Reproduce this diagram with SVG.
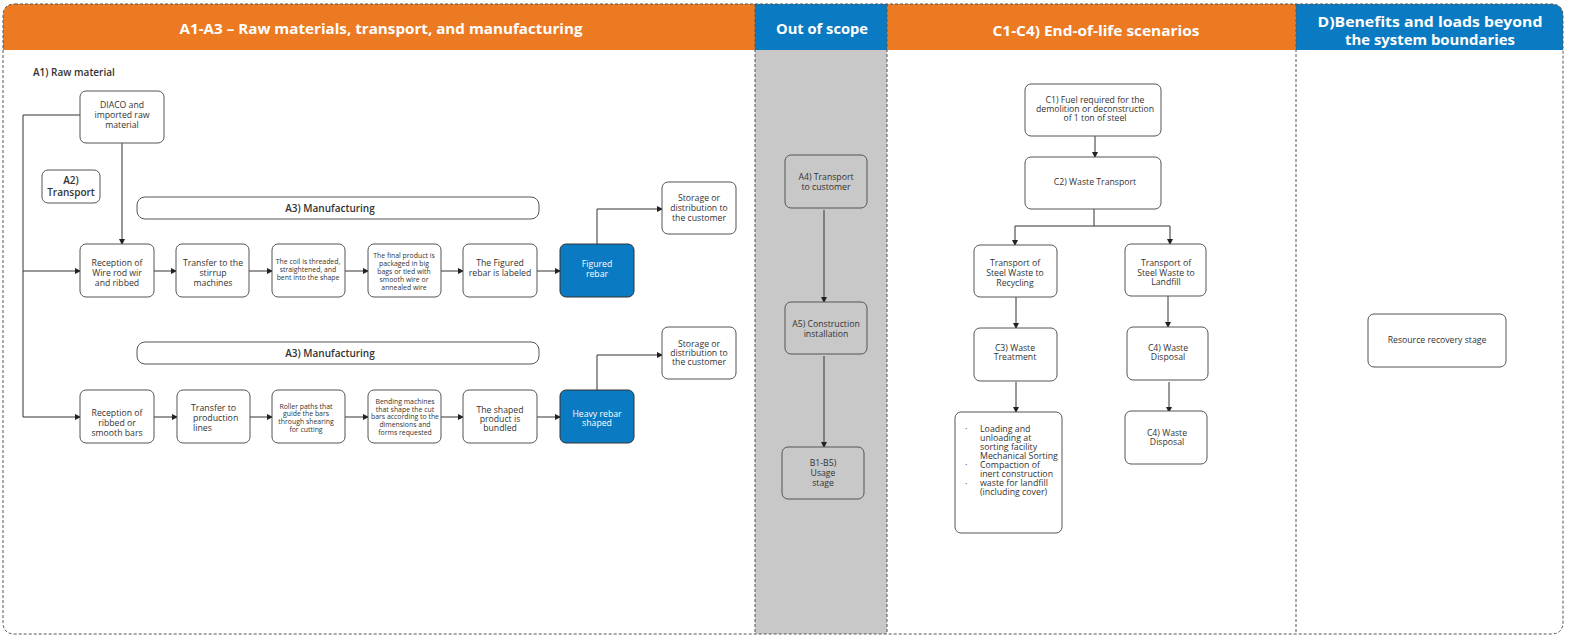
<svg xmlns="http://www.w3.org/2000/svg" width="1572" height="636" viewBox="0 0 1572 636">
<style>
text{font-family:"Open Sans","Liberation Sans",sans-serif;fill:#333}
.t{font-size:8.7px;text-anchor:middle}
.tl{font-size:8.8px}
.s{font-size:6.9px;text-anchor:middle}
.w{fill:#fff}
.h{font-size:14px;font-weight:700;fill:#fff;text-anchor:middle}
.lb{font-size:10px;font-weight:600}
.box{fill:#fff;stroke:#555;stroke-width:1}
.gbox{fill:#C8C8C8;stroke:#555;stroke-width:1}
.blue{fill:#0A7BC2;stroke:#333;stroke-width:1}
.dash{fill:none;stroke:#555;stroke-width:1;stroke-dasharray:3 2}
.c{fill:none;stroke:#333;stroke-width:1}
.a{marker-end:url(#arr)}
</style>
<defs>
<marker id="arr" markerUnits="userSpaceOnUse" markerWidth="6" markerHeight="6" refX="5" refY="3" orient="auto">
<path d="M0,0 L6,3 L0,6 z" fill="#222"/>
</marker>
</defs>
<rect width="1572" height="636" fill="#fff"/>
<g id="frame">
<rect x="755" y="50" width="132" height="584" fill="#C8C8C8"/>
<path d="M3,50 V16 Q3,4 15,4 H755 V50 Z" fill="#EC7A23"/>
<rect x="755" y="4" width="132" height="46" fill="#0A7BC2"/>
<rect x="887" y="4" width="409" height="46" fill="#EC7A23"/>
<path d="M1296,4 H1551 Q1563,4 1563,16 V50 H1296 Z" fill="#0A7BC2"/>
<path class="dash" d="M15,4 H1551 Q1563,4 1563,16 V622 Q1563,634 1551,634 H15 Q3,634 3,622 V16 Q3,4 15,4 Z"/>
<line class="dash" x1="755" y1="4" x2="755" y2="634"/>
<line class="dash" x1="887" y1="4" x2="887" y2="634"/>
<line class="dash" x1="1296" y1="4" x2="1296" y2="634"/>
<text class="h" x="381" y="34" textLength="403" lengthAdjust="spacingAndGlyphs">A1-A3 – Raw materials, transport, and manufacturing</text>
<text class="h" x="822" y="34" textLength="92" lengthAdjust="spacingAndGlyphs">Out of scope</text>
<text class="h" x="1096" y="36" textLength="207" lengthAdjust="spacingAndGlyphs">C1-C4) End-of-life scenarios</text>
<text class="h" x="1430" y="27" textLength="225" lengthAdjust="spacingAndGlyphs">D)Benefits and loads beyond</text>
<text class="h" x="1430" y="45" textLength="170" lengthAdjust="spacingAndGlyphs">the system boundaries</text>
<text class="lb" x="33" y="76">A1) Raw material</text>
</g>
<g id="connectors">
<path class="c a" d="M80,115 H23 V417 H80"/>
<path class="c a" d="M23,271 H80"/>
<path class="c a" d="M122,143 V244"/>
<path class="c a" d="M154,271 H176"/>
<path class="c a" d="M249,271 H272"/>
<path class="c a" d="M345,271 H368"/>
<path class="c a" d="M441,271 H463"/>
<path class="c a" d="M537,271 H560"/>
<path class="c a" d="M597,244 V209 H662"/>
<path class="c a" d="M154,417 H177"/>
<path class="c a" d="M250,417 H272"/>
<path class="c a" d="M345,417 H368"/>
<path class="c a" d="M441,417 H463"/>
<path class="c a" d="M537,417 H560"/>
<path class="c a" d="M597,390 V355 H662"/>
<path class="c a" d="M824,210 V302"/>
<path class="c a" d="M824,356 V447"/>
<path class="c a" d="M1095,136 V157"/>
<path class="c" d="M1094,209 V226 M1015,226 H1170"/>
<path class="c a" d="M1015,226 V245"/>
<path class="c a" d="M1170,226 V244"/>
<path class="c a" d="M1016,297 V328"/>
<path class="c a" d="M1168,296 V327"/>
<path class="c a" d="M1016,382 V412"/>
<path class="c a" d="M1169,382 V412"/>
</g>
<g id="diaco"><rect class="box" x="80" y="91" width="84" height="52" rx="6"/>
<text class="t" x="122" y="108">DIACO and</text><text class="t" x="122" y="118">imported raw</text><text class="t" x="122" y="128">material</text></g>
<g id="a2"><rect class="box" x="42" y="170" width="58" height="33" rx="6"/>
<text class="lb" x="71" y="184" text-anchor="middle">A2)</text><text class="lb" x="71" y="196" text-anchor="middle">Transport</text></g>
<g id="a3-1"><rect class="box" x="137" y="197" width="402" height="22" rx="8"/>
<text class="lb" x="330" y="212" text-anchor="middle" font-size="10.5">A3) Manufacturing</text></g>
<g id="r1n1"><rect class="box" x="80" y="244" width="74" height="53" rx="6"/>
<text class="t" x="117" y="266">Reception of</text><text class="t" x="117" y="276">Wire rod wir</text><text class="t" x="117" y="286">and ribbed</text></g>
<g id="r1n2"><rect class="box" x="176" y="244" width="73" height="53" rx="6"/>
<text class="t" x="213" y="266">Transfer to the</text><text class="t" x="213" y="276">stirrup</text><text class="t" x="213" y="286">machines</text></g>
<g id="r1n3"><rect class="box" x="272" y="244" width="73" height="53" rx="6"/>
<text class="s" x="308" y="264">The coil is threaded,</text><text class="s" x="308" y="272">straightened, and</text><text class="s" x="308" y="280">bent into the shape</text></g>
<g id="r1n4"><rect class="box" x="368" y="244" width="73" height="53" rx="6"/>
<text class="s" x="404" y="258">The final product is</text><text class="s" x="404" y="266">packaged in big</text><text class="s" x="404" y="274">bags or tied with</text><text class="s" x="404" y="282">smooth wire or</text><text class="s" x="404" y="290">annealed wire</text></g>
<g id="r1n5"><rect class="box" x="463" y="244" width="74" height="53" rx="6"/>
<text class="t" x="500" y="266">The Figured</text><text class="t" x="500" y="276">rebar is labeled</text></g>
<g id="r1n6"><rect class="blue" x="560" y="244" width="74" height="53" rx="6"/>
<text class="t w" x="597" y="267">Figured</text><text class="t w" x="597" y="277">rebar</text></g>
<g id="store1"><rect class="box" x="662" y="182" width="74" height="52" rx="6"/>
<text class="t" x="699" y="201">Storage or</text><text class="t" x="699" y="211">distribution to</text><text class="t" x="699" y="221">the customer</text></g>
<g id="a3-2"><rect class="box" x="137" y="342" width="402" height="22" rx="8"/>
<text class="lb" x="330" y="357" text-anchor="middle" font-size="10.5">A3) Manufacturing</text></g>
<g id="r2n1"><rect class="box" x="80" y="390" width="74" height="53" rx="6"/>
<text class="t" x="117" y="416">Reception of</text><text class="t" x="117" y="426">ribbed or</text><text class="t" x="117" y="436">smooth bars</text></g>
<g id="r2n2"><rect class="box" x="177" y="390" width="73" height="53" rx="6"/>
<text class="tl" x="191" y="411">Transfer to</text><text class="tl" x="193" y="421">production</text><text class="tl" x="193" y="431">lines</text></g>
<g id="r2n3"><rect class="box" x="272" y="390" width="73" height="53" rx="6"/>
<text class="s" x="306" y="409">Roller paths that</text><text class="s" x="306" y="416">guide the bars</text><text class="s" x="306" y="424">through shearing</text><text class="s" x="306" y="432">for cutting</text></g>
<g id="r2n4"><rect class="box" x="368" y="390" width="73" height="53" rx="6"/>
<text class="s" x="405" y="404">Bending machines</text><text class="s" x="405" y="412">that shape the cut</text><text class="s" x="405" y="419">bars according to the</text><text class="s" x="405" y="427">dimensions and</text><text class="s" x="405" y="435">forms requested</text></g>
<g id="r2n5"><rect class="box" x="463" y="390" width="74" height="53" rx="6"/>
<text class="t" x="500" y="413">The shaped</text><text class="t" x="500" y="422">product is</text><text class="t" x="500" y="431">bundled</text></g>
<g id="r2n6"><rect class="blue" x="560" y="390" width="74" height="53" rx="6"/>
<text class="t w" x="597" y="417">Heavy rebar</text><text class="t w" x="597" y="426">shaped</text></g>
<g id="store2"><rect class="box" x="662" y="327" width="74" height="52" rx="6"/>
<text class="t" x="699" y="347">Storage or</text><text class="t" x="699" y="356">distribution to</text><text class="t" x="699" y="365">the customer</text></g>
<g id="a4"><rect class="gbox" x="785" y="155" width="82" height="53" rx="6"/>
<text class="t" x="826" y="180">A4) Transport</text><text class="t" x="826" y="190">to customer</text></g>
<g id="a5"><rect class="gbox" x="785" y="302" width="82" height="52" rx="6"/>
<text class="t" x="826" y="327">A5) Construction</text><text class="t" x="826" y="337">installation</text></g>
<g id="b1b5"><rect class="gbox" x="782" y="447" width="82" height="52" rx="6"/>
<text class="t" x="823" y="466">B1-B5)</text><text class="t" x="823" y="476">Usage</text><text class="t" x="823" y="486">stage</text></g>
<g id="c1"><rect class="box" x="1025" y="84" width="136" height="52" rx="6"/>
<text class="t" x="1095" y="103">C1) Fuel required for the</text><text class="t" x="1095" y="112">demolition or deconstruction</text><text class="t" x="1095" y="121">of 1 ton of steel</text></g>
<g id="c2"><rect class="box" x="1025" y="157" width="136" height="52" rx="6"/>
<text class="t" x="1095" y="185">C2) Waste Transport</text></g>
<g id="trec"><rect class="box" x="974" y="245" width="83" height="52" rx="6"/>
<text class="t" x="1015" y="266">Transport of</text><text class="t" x="1015" y="276">Steel Waste to</text><text class="t" x="1015" y="286">Recycling</text></g>
<g id="tland"><rect class="box" x="1125" y="244" width="81" height="52" rx="6"/>
<text class="t" x="1166" y="266">Transport of</text><text class="t" x="1166" y="276">Steel Waste to</text><text class="t" x="1166" y="285">Landfill</text></g>
<g id="c3"><rect class="box" x="974" y="328" width="83" height="53" rx="6"/>
<text class="t" x="1015" y="351">C3) Waste</text><text class="t" x="1015" y="360">Treatment</text></g>
<g id="c4a"><rect class="box" x="1127" y="327" width="81" height="53" rx="6"/>
<text class="t" x="1168" y="351">C4) Waste</text><text class="t" x="1168" y="360">Disposal</text></g>
<g id="loading"><rect class="box" x="955" y="412" width="107" height="121" rx="6"/>
<text class="tl" x="965" y="432">·</text><text class="tl" x="965" y="468">·</text><text class="tl" x="965" y="487">·</text>
<text class="tl" x="980" y="432">Loading and</text><text class="tl" x="980" y="441">unloading at</text><text class="tl" x="980" y="450">sorting facility</text><text class="tl" x="980" y="459">Mechanical Sorting</text><text class="tl" x="980" y="468">Compaction of</text><text class="tl" x="980" y="477">inert construction</text><text class="tl" x="980" y="486">waste for landfill</text><text class="tl" x="980" y="495">(including cover)</text></g>
<g id="c4b"><rect class="box" x="1125" y="411" width="82" height="53" rx="6"/>
<text class="t" x="1167" y="436">C4) Waste</text><text class="t" x="1167" y="445">Disposal</text></g>
<g id="d"><rect class="box" x="1368" y="314" width="138" height="53" rx="6"/>
<text class="t" x="1437" y="343">Resource recovery stage</text></g>
</svg>
